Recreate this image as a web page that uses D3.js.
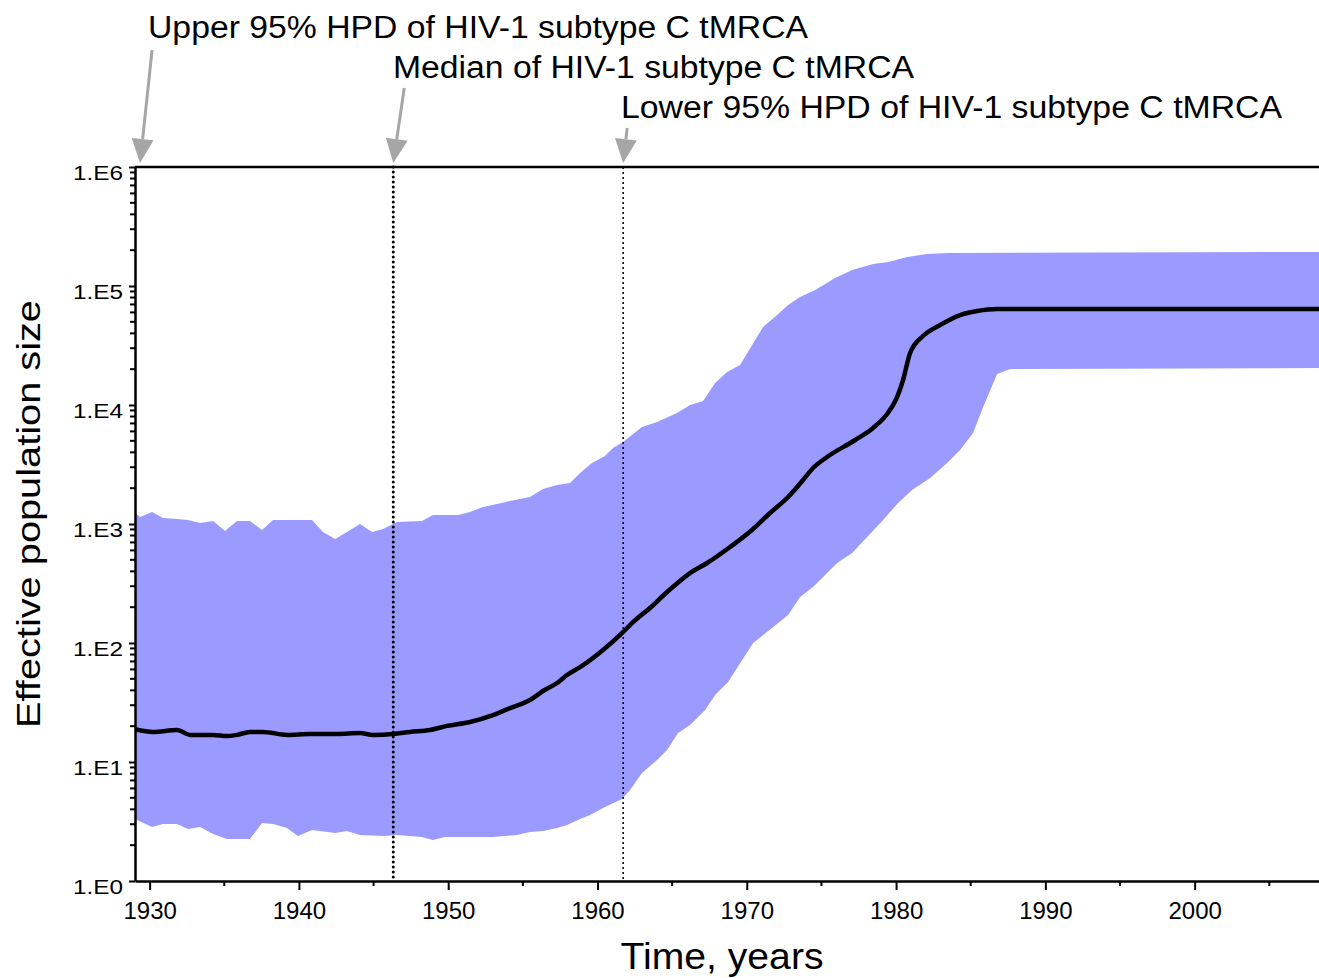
<!DOCTYPE html>
<html>
<head>
<meta charset="utf-8">
<script src="https://cdn.jsdelivr.net/npm/d3@7"></script>
<style>
  body { margin: 0; background: #fff; }
  svg { display: block; }
  text { font-family: Arial, "Liberation Sans", sans-serif; fill: #000; }
</style>
</head>
<body>
<svg id="chart"></svg>
<script>
const width = 1319;
const height = 978;

// [year, Ne]
const upper95 = [
  [1929.02, 1237], [1929.36, 1145], [1930.16, 1262], [1930.90, 1123], [1931.84, 1102],
  [1932.57, 1081], [1933.38, 1020], [1934.25, 1060], [1935.05, 873], [1935.85, 1060],
  [1936.72, 1060], [1937.53, 891], [1938.27, 1081], [1940.88, 1081], [1941.61, 857],
  [1942.42, 748], [1943.22, 857], [1944.09, 1000], [1944.90, 857], [1945.63, 908],
  [1946.57, 1040], [1948.24, 1060], [1948.98, 1191], [1950.66, 1191], [1951.46, 1262],
  [1952.33, 1390], [1953.27, 1472], [1954.14, 1560], [1955.48, 1687], [1956.35, 1968],
  [1957.29, 2128], [1958.16, 2213], [1958.83, 2685], [1959.63, 3258], [1960.50, 3724],
  [1961.04, 4353], [1961.71, 4889], [1962.98, 6534], [1963.99, 7195], [1965.33, 8570],
  [1966.20, 10000], [1967.07, 10810], [1967.88, 15310], [1968.68, 18920], [1969.55, 21680],
  [1970.36, 31920], [1971.09, 45190], [1972.03, 57020], [1972.77, 69180], [1973.57, 80910],
  [1974.58, 92480], [1975.92, 116700], [1977.06, 136200], [1978.46, 153000], [1979.47, 159200],
  [1980.74, 175400], [1982.08, 185800], [1983.49, 189300], [2008.33, 193200]
];

const median = [
  [1929.02, 18.9], [1930.23, 17.9], [1931.84, 18.6], [1932.71, 16.9], [1934.25, 16.9],
  [1935.18, 16.5], [1935.85, 16.9], [1936.72, 17.9], [1937.59, 17.9], [1939.20, 16.9],
  [1940.74, 17.2], [1942.55, 17.2], [1944.09, 17.5], [1944.96, 16.9], [1946.30, 17.2],
  [1947.44, 17.9], [1948.78, 18.6], [1949.92, 20.1], [1951.46, 21.7], [1953.00, 24.8],
  [1954.14, 28.4], [1955.48, 33.2], [1956.35, 39.5], [1957.29, 46.1], [1957.96, 53.8],
  [1958.96, 64.1], [1960.37, 87.3], [1961.64, 121], [1962.38, 150], [1963.52, 197],
  [1964.66, 268], [1966.20, 387], [1967.34, 470], [1968.88, 641], [1970.35, 891],
  [1971.56, 1237], [1972.77, 1687], [1973.77, 2342], [1974.44, 2955], [1975.38, 3656],
  [1977.26, 5081], [1978.46, 6412], [1979.40, 8395], [1980.07, 11670], [1980.47, 16220],
  [1980.94, 27350], [1981.81, 38020], [1982.95, 47000], [1984.29, 57020], [1985.43, 61660],
  [1986.77, 64120], [2008.33, 64120]
];

const lower95 = [
  [1929.02, 3.38], [1929.16, 3.26], [1930.16, 2.84], [1930.90, 3.01], [1931.84, 3.01],
  [1932.57, 2.74], [1933.38, 2.84], [1934.25, 2.48], [1935.18, 2.25], [1936.72, 2.25],
  [1937.53, 3.07], [1938.27, 3.01], [1939.20, 2.79], [1939.94, 2.39], [1940.88, 2.68],
  [1942.42, 2.53], [1943.22, 2.63], [1944.09, 2.44], [1945.63, 2.39], [1946.57, 2.44],
  [1948.24, 2.34], [1948.98, 2.21], [1949.78, 2.34], [1950.99, 2.34], [1953.00, 2.34],
  [1954.61, 2.44], [1955.48, 2.58], [1956.35, 2.63], [1957.29, 2.79], [1957.96, 2.96],
  [1958.83, 3.32], [1959.50, 3.59], [1960.37, 4.11], [1961.64, 4.89], [1962.18, 5.82],
  [1962.98, 8.08], [1963.99, 10.4], [1964.66, 12.6], [1965.40, 17.5], [1966.20, 20.5],
  [1967.21, 27.4], [1967.88, 36.6], [1968.75, 47.0], [1969.69, 71.9], [1970.43, 100],
  [1971.10, 117], [1972.77, 172], [1973.57, 244], [1974.44, 296], [1976.05, 470],
  [1977.06, 570], [1979.13, 1081], [1980.13, 1500], [1981.07, 1931], [1982.28, 2437],
  [1983.42, 3258], [1984.29, 4188], [1985.16, 5819], [1985.83, 9616], [1986.77, 18240],
  [1987.64, 20090], [2008.33, 20460]
];

const tmrcaLabels = [
  'Upper 95% HPD of HIV-1 subtype C tMRCA',
  'Median of HIV-1 subtype C tMRCA',
  'Lower 95% HPD of HIV-1 subtype C tMRCA'
];
const tmrcaYears = [1929.36, 1946.32, 1961.72];

const xTicks = [1930, 1940, 1950, 1960, 1970, 1980, 1990, 2000];
const xMinorTicks = [1935, 1945, 1955, 1965, 1975, 1985, 1995, 2005];
const yTicks = [1, 10, 100, 1000, 10000, 100000, 1000000];

const plotLeft = 135, plotRight = 1319, plotTop = 167, plotBottom = 881;

const svg = d3.select('#chart')
    .attr('width', width)
    .attr('height', height);

const x = d3.scaleLinear().domain([1929.02, 2008.33]).range([plotLeft, plotRight]);
const y = d3.scaleLog().domain([1, 1e6]).range([plotBottom, plotTop]);

svg.append('clipPath').attr('id', 'plot-clip')
    .append('rect')
    .attr('x', plotLeft).attr('y', plotTop)
    .attr('width', plotRight - plotLeft).attr('height', plotBottom - plotTop);

const plot = svg.append('g').attr('clip-path', 'url(#plot-clip)');

const line = d3.line().x(d => x(d[0])).y(d => y(d[1]));

// HPD band: upper edge forwards, lower edge backwards
plot.append('path')
    .attr('d', line(upper95.concat(lower95.slice().reverse())) + 'Z')
    .attr('fill', '#9b9bff')
    .attr('stroke', 'none');

plot.append('path')
    .attr('d', line.curve(d3.curveMonotoneX)(median))
    .attr('fill', 'none')
    .attr('stroke', '#000')
    .attr('stroke-width', 4.5)
    .attr('stroke-linejoin', 'round');

// tMRCA dotted lines (median one is heavier)
svg.append('line')
    .attr('x1', x(tmrcaYears[1])).attr('x2', x(tmrcaYears[1]))
    .attr('y1', plotTop).attr('y2', plotBottom)
    .attr('stroke', '#000').attr('stroke-width', 3)
    .attr('stroke-dasharray', '0 5').attr('stroke-linecap', 'round');

svg.append('line')
    .attr('x1', x(tmrcaYears[2])).attr('x2', x(tmrcaYears[2]))
    .attr('y1', plotTop).attr('y2', plotBottom)
    .attr('stroke', '#000').attr('stroke-width', 1.5)
    .attr('stroke-dasharray', '2 3');

// axes
const xAxis = svg.append('g').attr('transform', `translate(0, ${plotBottom})`);
xAxis.call(d3.axisBottom(x).tickValues(xTicks).tickFormat(d3.format('d')).tickSize(9).tickSizeOuter(0));
xAxis.append('g').selectAll('line')
    .data(xMinorTicks)
    .enter()
    .append('line')
    .attr('x1', d => x(d)).attr('x2', d => x(d))
    .attr('y1', 0).attr('y2', 5)
    .attr('stroke', '#000').attr('stroke-width', 2);

const yAxis = svg.append('g').attr('transform', `translate(${plotLeft}, 0)`);
yAxis.call(d3.axisLeft(y).tickValues(yTicks)
    .tickFormat(d => '1.E' + Math.round(Math.log10(d)))
    .tickSize(6).tickSizeOuter(0));

const yMinor = [];
yTicks.slice(0, -1).forEach(t => { for (let k = 2; k <= 9; k++) yMinor.push(t * k); });
yAxis.append('g').selectAll('line')
    .data(yMinor)
    .enter()
    .append('line')
    .attr('x1', -5).attr('x2', 0)
    .attr('y1', d => y(d)).attr('y2', d => y(d))
    .attr('stroke', '#000').attr('stroke-width', 2);

svg.selectAll('.domain').attr('stroke', '#000').attr('stroke-width', 2.5);
svg.selectAll('.tick line').attr('stroke', '#000').attr('stroke-width', 2);
xAxis.selectAll('.tick text').attr('font-size', 24).attr('dy', '1.08em');
yAxis.selectAll('.tick text')
    .attr('font-size', 20)
    .attr('dy', '0.6em')
    .attr('dx', '-0.15em')
    .attr('textLength', 50)
    .attr('lengthAdjust', 'spacingAndGlyphs');

// top frame line
svg.append('line')
    .attr('x1', plotLeft).attr('x2', plotRight)
    .attr('y1', plotTop).attr('y2', plotTop)
    .attr('stroke', '#000').attr('stroke-width', 2.5);

// axis titles
svg.append('text')
    .attr('x', 722).attr('y', 969)
    .attr('text-anchor', 'middle')
    .attr('font-size', 36)
    .attr('textLength', 203)
    .attr('lengthAdjust', 'spacingAndGlyphs')
    .text('Time, years');

svg.append('text')
    .attr('transform', 'translate(40, 514) rotate(-90)')
    .attr('text-anchor', 'middle')
    .attr('font-size', 34)
    .attr('textLength', 428)
    .attr('lengthAdjust', 'spacingAndGlyphs')
    .text('Effective population size');

// annotation arrows and labels
const labelPos = [[148, 38], [393, 78], [621, 118]];
const labelWidth = [660, 521, 661];
const tails = [[12, 50], [11, 88], [4, 128]];

tmrcaYears.forEach((yr, i) => {
    const tipX = x(yr), tipY = plotTop - 4;
    const tx = tipX + tails[i][0], ty = tails[i][1];
    const len = Math.hypot(tipX - tx, tipY - ty);
    const ux = (tipX - tx) / len, uy = (tipY - ty) / len;
    const headLen = 24, headHalf = 11;
    const bx = tipX - ux * headLen, by = tipY - uy * headLen;

    svg.append('line')
        .attr('x1', tx).attr('y1', ty)
        .attr('x2', bx).attr('y2', by)
        .attr('stroke', '#a6a6a6').attr('stroke-width', 3);

    svg.append('path')
        .attr('d', `M${tipX},${tipY}L${bx - uy * headHalf},${by + ux * headHalf}L${bx + uy * headHalf},${by - ux * headHalf}Z`)
        .attr('fill', '#a6a6a6');

    svg.append('text')
        .attr('x', labelPos[i][0]).attr('y', labelPos[i][1])
        .attr('font-size', 31)
        .attr('textLength', labelWidth[i])
        .attr('lengthAdjust', 'spacingAndGlyphs')
        .text(tmrcaLabels[i]);
});
</script>
</body>
</html>
